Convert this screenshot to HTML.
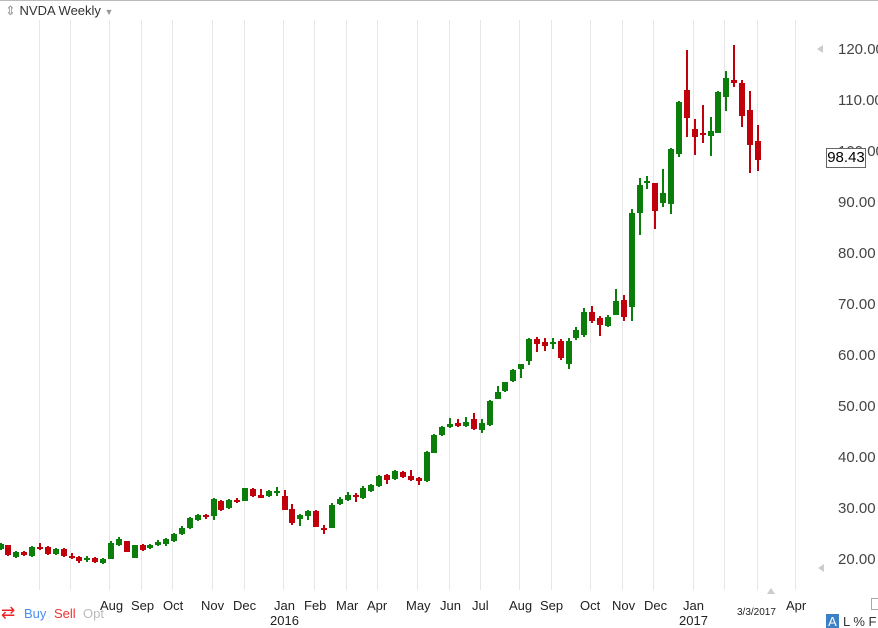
<!DOCTYPE html>
<html><head><meta charset="utf-8"><style>
html,body{margin:0;padding:0;background:#fff;width:878px;height:628px;overflow:hidden;font-family:"Liberation Sans",sans-serif;}
#w{position:relative;width:878px;height:628px;}
.t{position:absolute;white-space:nowrap;}
.ax{font-size:15px;color:#444;}
.xl{font-size:13px;color:#222;}
</style></head><body><div id="w">
<svg id="s" width="878" height="628" style="position:absolute;left:0;top:0">
<line x1="0" y1="0.5" x2="878" y2="0.5" stroke="#bbb"/>
<g id="grid" stroke="#e6e6e6" stroke-width="1"></g>
<g id="c"></g>
<polygon points="817,49 823,45 823,53" fill="#ccc"/>
<polygon points="818,568 824,564 824,572" fill="#ccc"/>
<polygon points="767,594 771,588 775,594" fill="#ccc"/>
</svg>
<div class="t" style="left:5px;top:3px;font-size:13px;color:#333;"><span style="color:#999">⇕</span> NVDA Weekly <span style="color:#999;font-size:9px">▼</span></div>
<div class="t ax" style="left:838px;top:41px">120.00</div>
<div class="t ax" style="left:838px;top:92px">110.00</div>
<div class="t ax" style="left:838px;top:143px">100.00</div>
<div class="t ax" style="left:838px;top:194px">90.00</div>
<div class="t ax" style="left:838px;top:245px">80.00</div>
<div class="t ax" style="left:838px;top:296px">70.00</div>
<div class="t ax" style="left:838px;top:347px">60.00</div>
<div class="t ax" style="left:838px;top:398px">50.00</div>
<div class="t ax" style="left:838px;top:449px">40.00</div>
<div class="t ax" style="left:838px;top:500px">30.00</div>
<div class="t ax" style="left:838px;top:551px">20.00</div>
<div class="t" style="left:826px;top:148px;width:38px;height:18px;border:1px solid #666;background:#fff;font-size:15px;color:#000;line-height:18px;text-align:center">98.43</div>
<div class="t xl" style="left:100px;top:598px">Aug</div>
<div class="t xl" style="left:131px;top:598px">Sep</div>
<div class="t xl" style="left:163px;top:598px">Oct</div>
<div class="t xl" style="left:201px;top:598px">Nov</div>
<div class="t xl" style="left:233px;top:598px">Dec</div>
<div class="t xl" style="left:274px;top:598px">Jan</div>
<div class="t xl" style="left:270px;top:613px">2016</div>
<div class="t xl" style="left:304px;top:598px">Feb</div>
<div class="t xl" style="left:336px;top:598px">Mar</div>
<div class="t xl" style="left:367px;top:598px">Apr</div>
<div class="t xl" style="left:406px;top:598px">May</div>
<div class="t xl" style="left:440px;top:598px">Jun</div>
<div class="t xl" style="left:472px;top:598px">Jul</div>
<div class="t xl" style="left:509px;top:598px">Aug</div>
<div class="t xl" style="left:540px;top:598px">Sep</div>
<div class="t xl" style="left:580px;top:598px">Oct</div>
<div class="t xl" style="left:612px;top:598px">Nov</div>
<div class="t xl" style="left:644px;top:598px">Dec</div>
<div class="t xl" style="left:683px;top:598px">Jan</div>
<div class="t xl" style="left:679px;top:613px">2017</div>
<div class="t" style="left:737px;top:607px;font-size:10px;color:#222">3/3/2017</div>
<div class="t xl" style="left:786px;top:598px">Apr</div>
<div class="t" style="left:0;top:602px;width:96px;height:24px;background:#fff"></div>
<div class="t" style="left:1px;top:603px;font-size:17px;color:#e22;line-height:20px">⇄</div>
<div class="t" style="left:24px;top:606px;font-size:13px;color:#4a8ef0">Buy</div>
<div class="t" style="left:54px;top:606px;font-size:13px;color:#f03030">Sell</div>
<div class="t" style="left:83px;top:606px;font-size:13px;color:#bbb">Opt</div>
<div class="t" style="left:826px;top:614px;width:13px;height:15px;background:#3b7fc4;color:#fff;font-size:13px;text-align:center;line-height:15px">A</div>
<div class="t" style="left:843px;top:614px;font-size:13px;color:#333;word-spacing:0">L % F</div>
<div class="t" style="left:871px;top:598px;width:8px;height:10px;border:1px solid #aaa"></div>
</div>
<script>
var g=[39,70,109,141,172,212,244,283,314,346,377,417,449,480,519,551,590,622,653,693,724,757,795];
var gs='';g.forEach(function(x){gs+='<line x1="'+(x+0.5)+'" y1="20" x2="'+(x+0.5)+'" y2="590"/>';});
document.getElementById('grid').innerHTML=gs;
var d=[
['g',544,549,543,550],['r',545,555,545,556],['g',552,557,551,558],['r',552,555,551,556],['g',547,556,546,557],
['r',547,548,543,550],['r',547,554,546,555],['g',549,554,548,555],['r',549,556,548,557],['r',556,557,553,559],
['r',557,561,556,563],['g',558,560,556,562],['r',558,562,557,563],['g',559,563,558,564],['g',543,559,541,559],
['g',539,545,537,546],['r',541,552,541,552],['g',545,558,545,558],['r',545,550,544,551],['g',545,548,544,549],
['g',542,545,540,546],['g',539,544,538,546],['g',534,541,533,542],['g',528,534,526,535],['g',518,528,517,529],
['g',515,520,514,521],['r',515,517,514,519],['g',499,516,498,520],['r',501,510,500,511],['g',500,508,499,509],
['r',500,501,498,503],['g',488,501,488,501],['r',489,496,488,497],['r',495,498,489,498],['g',491,496,490,497],
['g',491,493,487,496],['r',496,510,490,510],['r',509,523,504,525],['g',515,519,514,526],['g',511,516,510,520],
['r',511,527,510,527],['r',528,530,525,534],['g',505,528,503,528],['g',499,504,497,505],['g',495,500,492,501],
['r',495,497,493,502],['g',488,498,486,499],['g',485,491,484,492],['g',476,486,475,487],['r',475,480,474,484],
['g',471,479,470,480],['r',472,477,471,478],['r',476,480,470,481],['r',478,481,477,485],['g',452,481,451,482],
['g',435,453,434,453],['g',427,435,426,436],['g',424,427,418,428],['r',423,426,419,427],['g',422,426,417,427],
['r',419,429,413,430],['g',423,430,419,433],['g',401,425,400,426],['g',392,399,386,399],['g',382,391,382,392],
['g',370,381,369,382],['g',364,369,364,378],['g',339,361,338,365],['r',339,344,337,352],['r',342,346,338,351],
['g',342,343,338,349],['r',341,358,339,360],['g',341,364,338,369],['g',330,338,327,340],['g',312,335,308,337],
['r',312,321,306,323],['r',318,325,316,336],['g',317,326,315,327],['g',301,315,289,315],['r',300,317,295,321],
['g',213,307,209,321],['g',185,213,178,235],['g',181,183,176,189],['r',183,211,183,229],['g',193,203,169,207],
['g',149,204,148,214],['g',102,154,101,157],['r',90,118,50,137],['r',129,137,119,155],['r',133,135,105,143],
['g',131,136,117,156],['g',92,133,91,133],['g',78,97,71,111],['r',80,83,45,87],['r',83,116,80,127],
['r',110,145,91,173],['r',141,160,125,171]];
var s='';
d.forEach(function(c,i){var x=Math.round(-0.5+7.89*i);var col=c[0]=='g'?'#0a7d0a':'#c0000a';
s+='<rect x="'+x+'" y="'+c[3]+'" width="2" height="'+Math.max(1,c[4]-c[3])+'" fill="'+col+'"/>';
s+='<rect x="'+(x-2)+'" y="'+c[1]+'" width="6" height="'+Math.max(2,c[2]-c[1])+'" fill="'+col+'"/>';});
document.getElementById('c').innerHTML=s;
</script>
</body></html>
